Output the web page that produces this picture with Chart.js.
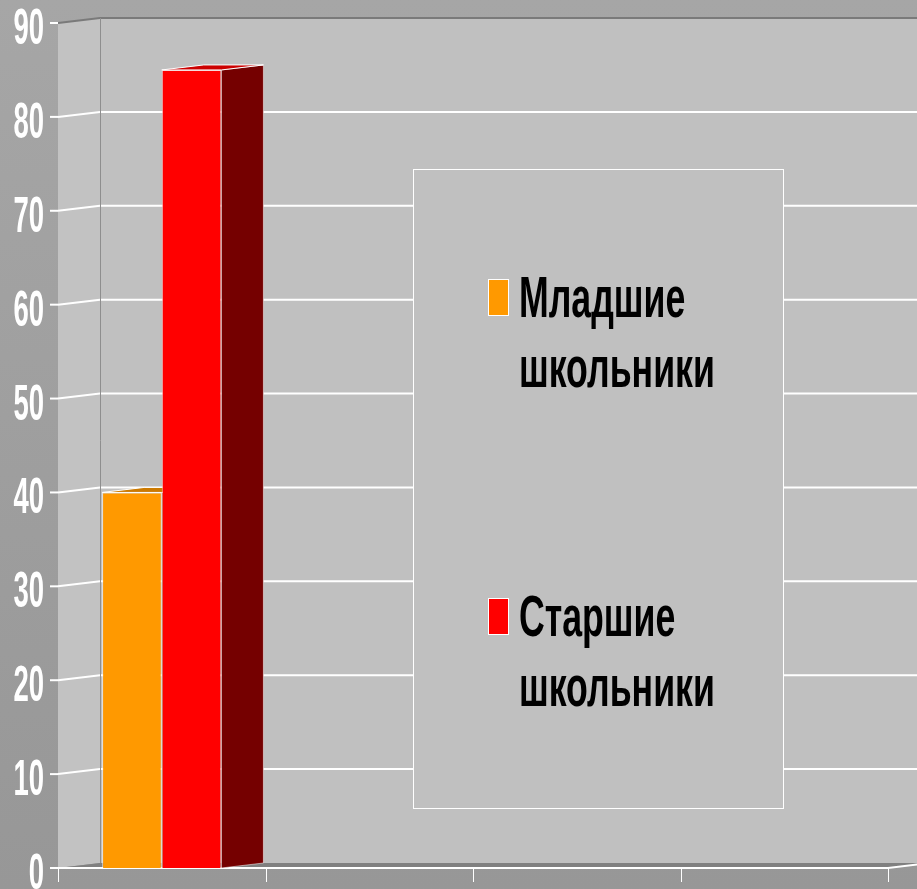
<!DOCTYPE html>
<html>
<head>
<meta charset="utf-8">
<script src="https://cdn.jsdelivr.net/npm/chart.js@4"></script>
<style>
  html, body { margin: 0; padding: 0; background: #a0a0a0; }
  canvas { display: block; }
</style>
</head>
<body>
<canvas id="schoolChart" width="917" height="889"></canvas>
<script>
const categories = ['', '', '', '']
const juniorValues = [40, null, null, null]
const seniorValues = [85, null, null, null]
const seriesNames = ['Младшие школьники', 'Старшие школьники']
const seriesColors = ['#ff9900', '#ff0000']
const yTicks = [0, 10, 20, 30, 40, 50, 60, 70, 80, 90]

// 3d depth of the plot (back wall offset)
const DX = 42
const DY = -5

function shade(hex, f) {
    const n = parseInt(hex.slice(1), 16)
    const r = Math.round(((n >> 16) & 255) * f)
    const g = Math.round(((n >> 8) & 255) * f)
    const b = Math.round((n & 255) * f)
    return `rgb(${r},${g},${b})`
}

function poly(ctx, pts, fill, stroke) {
    ctx.beginPath()
    ctx.moveTo(pts[0][0], pts[0][1])
    for (let i = 1; i < pts.length; i++) ctx.lineTo(pts[i][0], pts[i][1])
    ctx.closePath()
    if (fill) { ctx.fillStyle = fill; ctx.fill() }
    if (stroke) { ctx.strokeStyle = stroke; ctx.lineWidth = 1; ctx.stroke() }
}

// narrow, tall text like the original
function narrowText(ctx, text, x, y, sx, align) {
    ctx.save()
    ctx.translate(x, y)
    ctx.scale(sx, 1)
    ctx.textAlign = align
    ctx.textBaseline = 'alphabetic'
    ctx.fillText(text, 0, 0)
    ctx.restore()
}

const plot3d = {
    id: 'plot3d',
    beforeDraw(chart) {
        const { ctx, chartArea: a, scales: { x, y } } = chart
        const W = chart.width, H = chart.height
        ctx.save()
        const bg = ctx.createLinearGradient(0, 0, 0, H)
        bg.addColorStop(0, '#a6a6a6')
        bg.addColorStop(1, '#979797')
        ctx.fillStyle = bg
        ctx.fillRect(0, 0, W, H)

        const top = y.getPixelForValue(90)
        const bot = y.getPixelForValue(0)

        // back wall
        poly(ctx, [[a.left + DX, top + DY], [W + 20, top + DY], [W + 20, bot + DY], [a.left + DX, bot + DY]], '#c0c0c0')
        // left wall
        poly(ctx, [[a.left, top], [a.left + DX, top + DY], [a.left + DX, bot + DY], [a.left, bot]], '#c2c2c2')
        // floor
        poly(ctx, [[a.left, bot], [a.left + DX, bot + DY], [a.right + DX, bot + DY], [a.right, bot]], '#808080')

        // gridlines
        ctx.lineWidth = 2
        ctx.strokeStyle = '#ffffff'
        yTicks.forEach(v => {
            if (v === 0 || v === 90) return
            const py = y.getPixelForValue(v)
            ctx.beginPath()
            ctx.moveTo(a.left, py)
            ctx.lineTo(a.left + DX, py + DY)
            ctx.lineTo(W + 20, py + DY)
            ctx.stroke()
        })

        // top edge of walls
        ctx.strokeStyle = '#7a7a7a'
        ctx.lineWidth = 2
        ctx.beginPath()
        ctx.moveTo(a.left, top)
        ctx.lineTo(a.left + DX, top + DY)
        ctx.lineTo(W + 20, top + DY)
        ctx.stroke()

        // corner line between left wall and back wall
        ctx.strokeStyle = '#8e8e8e'
        ctx.lineWidth = 1
        ctx.beginPath()
        ctx.moveTo(a.left + DX + 0.5, top + DY)
        ctx.lineTo(a.left + DX + 0.5, bot + DY)
        ctx.stroke()

        // y ticks and labels
        ctx.strokeStyle = '#ffffff'
        ctx.lineWidth = 2
        ctx.fillStyle = '#ffffff'
        ctx.font = 'bold 50px "Liberation Sans", Arial, sans-serif'
        yTicks.forEach(v => {
            const py = y.getPixelForValue(v)
            ctx.beginPath()
            ctx.moveTo(a.left - 8, py)
            ctx.lineTo(a.left, py)
            ctx.stroke()
            narrowText(ctx, String(v), 44, py + 21, 0.55, 'right')
        })

        // x axis line, ticks and floor edge
        ctx.beginPath()
        ctx.moveTo(a.left - 8, bot)
        ctx.lineTo(a.right, bot)
        ctx.lineTo(a.right + DX, bot + DY)
        ctx.stroke()
        ctx.lineWidth = 1
        const n = categories.length
        for (let i = 0; i <= n; i++) {
            let px
            if (i === 0) px = x.left
            else if (i === n) px = x.right
            else px = (x.getPixelForValue(i - 1) + x.getPixelForValue(i)) / 2
            ctx.beginPath()
            ctx.moveTo(Math.round(px) + 0.5, bot)
            ctx.lineTo(Math.round(px) + 0.5, bot + 14)
            ctx.stroke()
        }
        ctx.restore()
    },
    beforeDatasetsDraw(chart) {
        const { ctx } = chart
        ctx.save()
        chart.data.datasets.forEach((ds, di) => {
            const meta = chart.getDatasetMeta(di)
            meta.data.forEach((bar, i) => {
                if (ds.data[i] == null) return
                const { x, y, base, width } = bar.getProps(['x', 'y', 'base', 'width'], true)
                const l = x - width / 2, r = x + width / 2
                // side face
                poly(ctx, [[r, y], [r + DX, y + DY], [r + DX, base + DY], [r, base]], shade(ds.backgroundColor, 0.46), 'rgba(255,255,255,0.5)')
                // top face
                poly(ctx, [[l, y], [l + DX, y + DY], [r + DX, y + DY], [r, y]], shade(ds.backgroundColor, 0.8), '#ffffff')
            })
        })
        ctx.restore()
    },
    afterDraw(chart) {
        const { ctx } = chart
        ctx.save()
        // legend box
        ctx.fillStyle = '#c0c0c0'
        ctx.fillRect(413.5, 169.5, 370, 639)
        ctx.strokeStyle = '#ffffff'
        ctx.lineWidth = 1
        ctx.strokeRect(413.5, 169.5, 370, 639)

        ctx.font = 'bold 58px "Liberation Sans", Arial, sans-serif'
        chart.data.datasets.forEach((ds, di) => {
            const oy = di * 319
            ctx.fillStyle = ds.backgroundColor
            ctx.fillRect(488.5, 279.5 + oy, 20, 36)
            ctx.strokeStyle = '#ffffff'
            ctx.strokeRect(488.5, 279.5 + oy, 20, 36)
            ctx.fillStyle = '#000000'
            const words = ds.label.split(' ')
            narrowText(ctx, words[0], 519, 317 + oy, 0.615, 'left')
            narrowText(ctx, words[1], 519, 387 + oy, 0.615, 'left')
        })
        ctx.restore()
    }
}

new Chart(document.getElementById('schoolChart'), {
    type: 'bar',
    data: {
        labels: categories,
        datasets: [
            {
                label: seriesNames[0],
                data: juniorValues,
                backgroundColor: seriesColors[0],
                borderColor: 'rgba(255,255,255,0.6)',
                borderWidth: 1,
                categoryPercentage: 0.575,
                barPercentage: 1
            },
            {
                label: seriesNames[1],
                data: seniorValues,
                backgroundColor: seriesColors[1],
                borderColor: 'rgba(255,220,220,0.7)',
                borderWidth: 1,
                categoryPercentage: 0.575,
                barPercentage: 1
            }
        ]
    },
    options: {
        responsive: false,
        animation: false,
        devicePixelRatio: 1,
        layout: {
            padding: { left: 58, right: 29, top: 23, bottom: 21 }
        },
        scales: {
            x: { display: false },
            y: { display: false, min: 0, max: 90 }
        },
        plugins: {
            legend: { display: false },
            tooltip: { enabled: false }
        }
    },
    plugins: [plot3d]
})
</script>
</body>
</html>
